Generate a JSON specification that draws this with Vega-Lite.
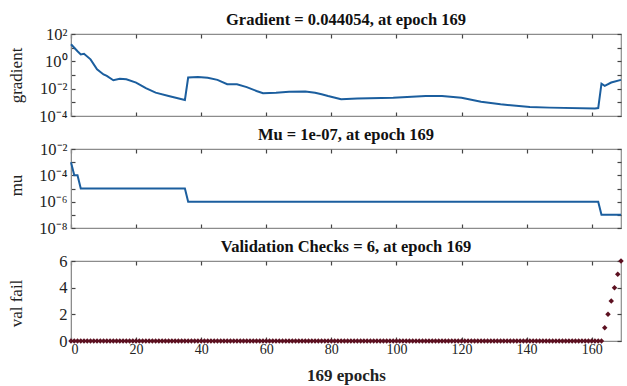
{
  "$schema": "https://vega.github.io/schema/vega-lite/v6.json",
  "autosize": {"type": "pad"},
  "padding": {"left": 6, "top": 10, "right": 3, "bottom": 2},
  "background": "white",
  "bounds": "flush",
  "spacing": 33,
  "datasets": {
    "grad": [
      {"epoch": 0, "gradient": 17.8}, {"epoch": 2, "gradient": 5.5}, {"epoch": 3, "gradient": 3.2}, {"epoch": 4, "gradient": 3.6},
      {"epoch": 6, "gradient": 1.4}, {"epoch": 8, "gradient": 0.26}, {"epoch": 10, "gradient": 0.11}, {"epoch": 11, "gradient": 0.085},
      {"epoch": 13, "gradient": 0.041}, {"epoch": 15, "gradient": 0.054}, {"epoch": 17, "gradient": 0.049}, {"epoch": 20, "gradient": 0.028},
      {"epoch": 23, "gradient": 0.011}, {"epoch": 26, "gradient": 0.0051}, {"epoch": 30, "gradient": 0.0029}, {"epoch": 35, "gradient": 0.0015},
      {"epoch": 36, "gradient": 0.065}, {"epoch": 39, "gradient": 0.071}, {"epoch": 42, "gradient": 0.063}, {"epoch": 45, "gradient": 0.044},
      {"epoch": 48, "gradient": 0.021}, {"epoch": 51, "gradient": 0.021}, {"epoch": 54, "gradient": 0.013}, {"epoch": 57, "gradient": 0.0068},
      {"epoch": 59, "gradient": 0.0046}, {"epoch": 63, "gradient": 0.0051}, {"epoch": 67, "gradient": 0.006}, {"epoch": 72, "gradient": 0.0063},
      {"epoch": 75, "gradient": 0.005}, {"epoch": 77, "gradient": 0.0039}, {"epoch": 79, "gradient": 0.0029}, {"epoch": 83, "gradient": 0.0017},
      {"epoch": 88, "gradient": 0.0019}, {"epoch": 99, "gradient": 0.0022}, {"epoch": 109, "gradient": 0.0029}, {"epoch": 114, "gradient": 0.0029},
      {"epoch": 120, "gradient": 0.0022}, {"epoch": 126, "gradient": 0.0011}, {"epoch": 132, "gradient": 0.00072}, {"epoch": 141, "gradient": 0.00046},
      {"epoch": 147, "gradient": 0.00041}, {"epoch": 161, "gradient": 0.00036}, {"epoch": 162, "gradient": 0.00038}, {"epoch": 163, "gradient": 0.023},
      {"epoch": 164, "gradient": 0.016}, {"epoch": 166, "gradient": 0.028}, {"epoch": 169, "gradient": 0.044054}
    ],
    "mu": [
      {"epoch": 0, "mu": 0.001}, {"epoch": 1, "mu": 0.0001}, {"epoch": 2, "mu": 0.0001}, {"epoch": 3, "mu": 0.00001},
      {"epoch": 35, "mu": 0.00001}, {"epoch": 36, "mu": 0.000001}, {"epoch": 162, "mu": 0.000001}, {"epoch": 163, "mu": 0.0000001},
      {"epoch": 169, "mu": 0.0000001}
    ],
    "val": [
      {"epoch":0,"val":0},{"epoch":1,"val":0},{"epoch":2,"val":0},{"epoch":3,"val":0},{"epoch":4,"val":0},{"epoch":5,"val":0},{"epoch":6,"val":0},{"epoch":7,"val":0},{"epoch":8,"val":0},{"epoch":9,"val":0},
      {"epoch":10,"val":0},{"epoch":11,"val":0},{"epoch":12,"val":0},{"epoch":13,"val":0},{"epoch":14,"val":0},{"epoch":15,"val":0},{"epoch":16,"val":0},{"epoch":17,"val":0},{"epoch":18,"val":0},{"epoch":19,"val":0},
      {"epoch":20,"val":0},{"epoch":21,"val":0},{"epoch":22,"val":0},{"epoch":23,"val":0},{"epoch":24,"val":0},{"epoch":25,"val":0},{"epoch":26,"val":0},{"epoch":27,"val":0},{"epoch":28,"val":0},{"epoch":29,"val":0},
      {"epoch":30,"val":0},{"epoch":31,"val":0},{"epoch":32,"val":0},{"epoch":33,"val":0},{"epoch":34,"val":0},{"epoch":35,"val":0},{"epoch":36,"val":0},{"epoch":37,"val":0},{"epoch":38,"val":0},{"epoch":39,"val":0},
      {"epoch":40,"val":0},{"epoch":41,"val":0},{"epoch":42,"val":0},{"epoch":43,"val":0},{"epoch":44,"val":0},{"epoch":45,"val":0},{"epoch":46,"val":0},{"epoch":47,"val":0},{"epoch":48,"val":0},{"epoch":49,"val":0},
      {"epoch":50,"val":0},{"epoch":51,"val":0},{"epoch":52,"val":0},{"epoch":53,"val":0},{"epoch":54,"val":0},{"epoch":55,"val":0},{"epoch":56,"val":0},{"epoch":57,"val":0},{"epoch":58,"val":0},{"epoch":59,"val":0},
      {"epoch":60,"val":0},{"epoch":61,"val":0},{"epoch":62,"val":0},{"epoch":63,"val":0},{"epoch":64,"val":0},{"epoch":65,"val":0},{"epoch":66,"val":0},{"epoch":67,"val":0},{"epoch":68,"val":0},{"epoch":69,"val":0},
      {"epoch":70,"val":0},{"epoch":71,"val":0},{"epoch":72,"val":0},{"epoch":73,"val":0},{"epoch":74,"val":0},{"epoch":75,"val":0},{"epoch":76,"val":0},{"epoch":77,"val":0},{"epoch":78,"val":0},{"epoch":79,"val":0},
      {"epoch":80,"val":0},{"epoch":81,"val":0},{"epoch":82,"val":0},{"epoch":83,"val":0},{"epoch":84,"val":0},{"epoch":85,"val":0},{"epoch":86,"val":0},{"epoch":87,"val":0},{"epoch":88,"val":0},{"epoch":89,"val":0},
      {"epoch":90,"val":0},{"epoch":91,"val":0},{"epoch":92,"val":0},{"epoch":93,"val":0},{"epoch":94,"val":0},{"epoch":95,"val":0},{"epoch":96,"val":0},{"epoch":97,"val":0},{"epoch":98,"val":0},{"epoch":99,"val":0},
      {"epoch":100,"val":0},{"epoch":101,"val":0},{"epoch":102,"val":0},{"epoch":103,"val":0},{"epoch":104,"val":0},{"epoch":105,"val":0},{"epoch":106,"val":0},{"epoch":107,"val":0},{"epoch":108,"val":0},{"epoch":109,"val":0},
      {"epoch":110,"val":0},{"epoch":111,"val":0},{"epoch":112,"val":0},{"epoch":113,"val":0},{"epoch":114,"val":0},{"epoch":115,"val":0},{"epoch":116,"val":0},{"epoch":117,"val":0},{"epoch":118,"val":0},{"epoch":119,"val":0},
      {"epoch":120,"val":0},{"epoch":121,"val":0},{"epoch":122,"val":0},{"epoch":123,"val":0},{"epoch":124,"val":0},{"epoch":125,"val":0},{"epoch":126,"val":0},{"epoch":127,"val":0},{"epoch":128,"val":0},{"epoch":129,"val":0},
      {"epoch":130,"val":0},{"epoch":131,"val":0},{"epoch":132,"val":0},{"epoch":133,"val":0},{"epoch":134,"val":0},{"epoch":135,"val":0},{"epoch":136,"val":0},{"epoch":137,"val":0},{"epoch":138,"val":0},{"epoch":139,"val":0},
      {"epoch":140,"val":0},{"epoch":141,"val":0},{"epoch":142,"val":0},{"epoch":143,"val":0},{"epoch":144,"val":0},{"epoch":145,"val":0},{"epoch":146,"val":0},{"epoch":147,"val":0},{"epoch":148,"val":0},{"epoch":149,"val":0},
      {"epoch":150,"val":0},{"epoch":151,"val":0},{"epoch":152,"val":0},{"epoch":153,"val":0},{"epoch":154,"val":0},{"epoch":155,"val":0},{"epoch":156,"val":0},{"epoch":157,"val":0},{"epoch":158,"val":0},{"epoch":159,"val":0},
      {"epoch":160,"val":0},{"epoch":161,"val":0},{"epoch":162,"val":0},{"epoch":163,"val":0},{"epoch":164,"val":1},{"epoch":165,"val":2},{"epoch":166,"val":3},{"epoch":167,"val":4},{"epoch":168,"val":5},{"epoch":169,"val":6}
    ]
  },
  "config": {
    "font": "Liberation Serif",
    "view": {"stroke": "#8c8c8c", "strokeWidth": 1.2},
    "axis": {
      "grid": false,
      "labelFont": "Liberation Serif",
      "labelFontSize": 16.5,
      "labelColor": "#222",
      "titleFont": "Liberation Serif",
      "titleFontWeight": "normal",
      "titleFontSize": 17,
      "titleColor": "#222",
      "domainColor": "#8c8c8c",
      "tickColor": "#444",
      "tickSize": -4,
      "tickWidth": 1.2,
      "labelPadding": 8
    },
    "title": {"font": "Liberation Serif", "fontSize": 16.5, "fontWeight": "bold", "anchor": "middle", "offset": -2, "color": "#111"}
  },
  "vconcat": [
    {
      "width": 550,
      "height": 82,
      "title": "Gradient = 0.044054, at epoch 169",
      "data": {"name": "grad"},
      "layer": [
        {
          "mark": {"type": "line", "color": "#1b5e9e", "strokeWidth": 2},
          "encoding": {
            "x": {"field": "epoch", "type": "quantitative", "scale": {"domain": [0, 169], "nice": false},
                  "axis": {"values": [0, 20, 40, 60, 80, 100, 120, 140, 160], "labels": false, "title": null}},
            "y": {"field": "gradient", "type": "quantitative", "scale": {"type": "log", "domain": [0.0001, 100], "nice": false},
                  "axis": {"values": [0.0001, 0.001, 0.01, 0.1, 1, 10, 100], "title": "gradient", "titleX": -46, "titleY": 41,
                           "labelExpr": "round(log(datum.value)/LN10) % 2 != 0 ? '' : '10' + replace(replace(replace(replace(replace(replace(''+round(log(datum.value)/LN10),'-','⁻'),'0','⁰'),'2','²'),'4','⁴'),'6','⁶'),'8','⁸')"}}
          }
        },
        {
          "mark": {"type": "point", "opacity": 0},
          "encoding": {
            "x": {"field": "epoch", "type": "quantitative", "axis": {"orient": "top", "values": [0, 20, 40, 60, 80, 100, 120, 140, 160], "labels": false, "title": null, "domain": false}},
            "y": {"field": "gradient", "type": "quantitative", "axis": {"orient": "right", "values": [0.0001, 0.001, 0.01, 0.1, 1, 10, 100], "labels": false, "title": null, "domain": false}}
          }
        }
      ],
      "resolve": {"axis": {"x": "independent", "y": "independent"}}
    },
    {
      "width": 550,
      "height": 79,
      "title": "Mu = 1e-07, at epoch 169",
      "data": {"name": "mu"},
      "layer": [
        {
          "mark": {"type": "line", "color": "#1b5e9e", "strokeWidth": 2},
          "encoding": {
            "x": {"field": "epoch", "type": "quantitative", "scale": {"domain": [0, 169], "nice": false},
                  "axis": {"values": [0, 20, 40, 60, 80, 100, 120, 140, 160], "labels": false, "title": null}},
            "y": {"field": "mu", "type": "quantitative", "scale": {"type": "log", "domain": [0.00000001, 0.01], "nice": false},
                  "axis": {"values": [0.00000001, 0.0000001, 0.000001, 0.00001, 0.0001, 0.001, 0.01], "title": "mu", "titleX": -46, "titleY": 36,
                           "labelExpr": "round(log(datum.value)/LN10) % 2 != 0 ? '' : '10' + replace(replace(replace(replace(replace(replace(''+round(log(datum.value)/LN10),'-','⁻'),'0','⁰'),'2','²'),'4','⁴'),'6','⁶'),'8','⁸')"}}
          }
        },
        {
          "mark": {"type": "point", "opacity": 0},
          "encoding": {
            "x": {"field": "epoch", "type": "quantitative", "axis": {"orient": "top", "values": [0, 20, 40, 60, 80, 100, 120, 140, 160], "labels": false, "title": null, "domain": false}},
            "y": {"field": "mu", "type": "quantitative", "axis": {"orient": "right", "values": [0.00000001, 0.0000001, 0.000001, 0.00001, 0.0001, 0.001, 0.01], "labels": false, "title": null, "domain": false}}
          }
        }
      ],
      "resolve": {"axis": {"x": "independent", "y": "independent"}}
    },
    {
      "width": 550,
      "height": 80,
      "title": "Validation Checks = 6, at epoch 169",
      "data": {"name": "val"},
      "layer": [
        {
          "mark": {"type": "point", "shape": "diamond", "filled": true, "size": 30, "color": "#5c1020", "opacity": 1},
          "encoding": {
            "x": {"field": "epoch", "type": "quantitative", "scale": {"domain": [0, 169], "nice": false},
                  "axis": {"values": [0, 20, 40, 60, 80, 100, 120, 140, 160], "title": "169 epochs", "titleFontWeight": "bold", "titleFontSize": 17, "titlePadding": 11, "labelPadding": 5, "labelFontSize": 14}},
            "y": {"field": "val", "type": "quantitative", "scale": {"domain": [0, 6], "nice": false},
                  "axis": {"values": [0, 2, 4, 6], "title": "val fail", "titleX": -46, "titleY": 42}}
          }
        },
        {
          "mark": {"type": "point", "opacity": 0},
          "encoding": {
            "x": {"field": "epoch", "type": "quantitative", "axis": {"orient": "top", "values": [0, 20, 40, 60, 80, 100, 120, 140, 160], "labels": false, "title": null, "domain": false}},
            "y": {"field": "val", "type": "quantitative", "axis": {"orient": "right", "values": [0, 2, 4, 6], "labels": false, "title": null, "domain": false}}
          }
        }
      ],
      "resolve": {"axis": {"x": "independent", "y": "independent"}}
    }
  ]
}
